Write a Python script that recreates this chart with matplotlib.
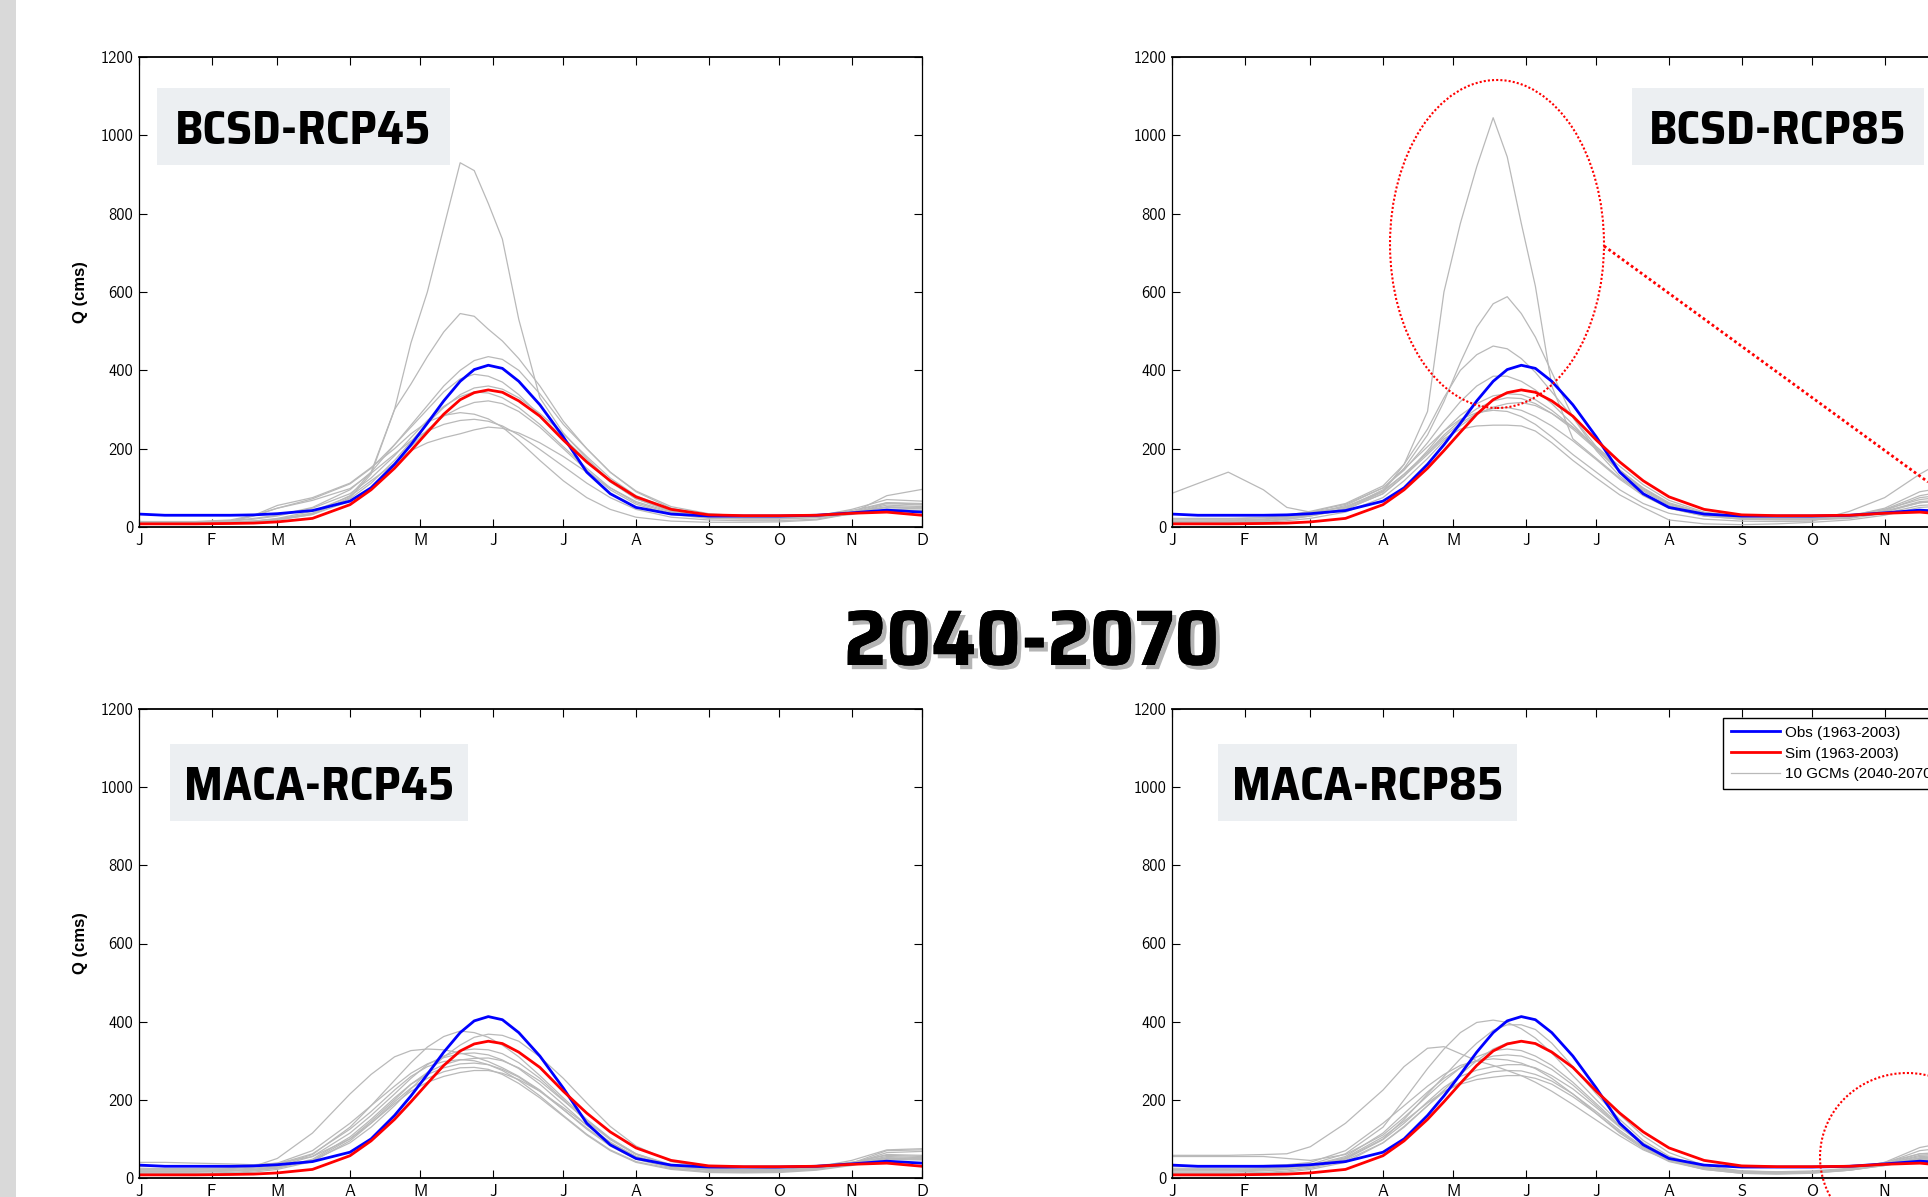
import matplotlib
matplotlib.use("Agg")
import matplotlib.pyplot as plt
import matplotlib.patheffects as pe
from matplotlib import font_manager
from matplotlib.textpath import TextPath
from matplotlib.patches import Ellipse, Rectangle
from matplotlib.lines import Line2D

# =============================================================================
# data (day of year, Q in cms)
# =============================================================================
DAYS = [1, 12, 25, 40, 50, 60, 75, 91, 100, 110, 117, 124, 131, 138, 144, 150,
        156, 163, 172, 182, 192, 202, 213, 228, 244, 259, 274, 290, 305, 320, 335]

OBS = [33, 30, 30, 30, 31, 34, 42, 66, 100, 160, 210, 265, 322, 372, 402, 413,
       405, 372, 312, 230, 140, 85, 50, 33, 28, 28, 28, 30, 36, 43, 38]
SIM = [8, 8, 8, 9, 10, 13, 22, 57, 95, 150, 195, 242, 288, 325, 343, 350,
       344, 322, 283, 222, 166, 118, 77, 45, 31, 29, 29, 30, 35, 38, 30]

BCSD45 = [
    [12, 12, 12, 13, 15, 20, 35, 80, 140, 300, 470, 600, 765, 930, 910, 826, 735, 530, 330, 240, 175, 118, 72, 40, 26, 24, 24, 28, 38, 50, 48],
    [10, 10, 11, 12, 14, 18, 32, 75, 135, 300, 365, 435, 498, 545, 538, 505, 475, 430, 360, 270, 200, 140, 90, 48, 30, 26, 25, 28, 36, 52, 50],
    [12, 12, 13, 16, 22, 30, 50, 95, 140, 210, 260, 310, 360, 400, 425, 435, 428, 400, 340, 262, 200, 140, 92, 52, 34, 28, 27, 30, 42, 62, 58],
    [14, 14, 14, 18, 30, 48, 72, 110, 150, 210, 255, 300, 345, 378, 390, 385, 370, 338, 285, 228, 170, 115, 72, 40, 28, 24, 24, 28, 45, 70, 66],
    [10, 10, 10, 12, 15, 20, 35, 72, 112, 170, 218, 265, 305, 338, 355, 360, 352, 330, 290, 238, 180, 125, 80, 45, 30, 26, 25, 28, 38, 50, 46],
    [14, 13, 13, 15, 20, 28, 48, 85, 125, 182, 228, 272, 308, 333, 345, 342, 330, 305, 262, 205, 150, 100, 62, 35, 25, 22, 22, 26, 36, 56, 52],
    [8, 8, 8, 10, 13, 18, 32, 66, 102, 160, 205, 248, 283, 305, 318, 322, 315, 295, 255, 200, 145, 95, 58, 32, 22, 20, 20, 24, 32, 46, 42],
    [12, 12, 12, 15, 30, 55, 75, 112, 152, 200, 238, 268, 285, 292, 288, 276, 255, 220, 170, 118, 75, 45, 25, 15, 12, 12, 13, 18, 34, 60, 56],
    [10, 10, 10, 14, 28, 48, 68, 98, 137, 186, 220, 245, 262, 272, 275, 270, 258, 235, 198, 155, 112, 75, 45, 25, 18, 16, 16, 20, 35, 80, 96],
    [10, 10, 10, 12, 15, 22, 40, 78, 118, 162, 195, 215, 228, 238, 248, 255, 252, 240, 215, 180, 140, 100, 65, 38, 25, 22, 22, 25, 38, 62, 60],
]

BCSD85 = [
    [22, 22, 22, 24, 26, 30, 45, 90, 160, 295, 600, 775, 920, 1045, 945, 775, 615, 360, 225, 175, 125, 85, 52, 32, 25, 24, 24, 30, 45, 70, 80],
    [18, 18, 18, 20, 24, 30, 48, 95, 150, 235, 320, 420, 510, 570, 588, 545, 485, 395, 280, 195, 130, 82, 48, 28, 20, 20, 20, 24, 38, 62, 72],
    [20, 20, 20, 24, 30, 40, 60, 105, 160, 250, 330, 400, 440, 462, 455, 430, 395, 345, 280, 205, 145, 95, 58, 32, 24, 22, 22, 26, 40, 65, 70],
    [15, 15, 16, 20, 28, 38, 58, 100, 145, 215, 270, 320, 360, 385, 385, 372, 350, 315, 262, 200, 140, 92, 55, 30, 22, 20, 20, 25, 42, 75, 85],
    [12, 12, 12, 15, 20, 28, 45, 85, 130, 195, 245, 285, 315, 335, 340, 338, 325, 298, 255, 200, 145, 98, 60, 34, 24, 22, 22, 26, 40, 62, 68],
    [14, 14, 14, 18, 25, 35, 52, 92, 135, 190, 235, 272, 302, 322, 330, 328, 315, 290, 250, 198, 145, 100, 62, 36, 25, 22, 22, 28, 48, 90, 105],
    [10, 10, 10, 12, 16, 22, 38, 75, 118, 175, 220, 258, 288, 306, 315, 318, 310, 290, 255, 205, 155, 108, 68, 38, 26, 23, 23, 28, 45, 80, 95],
    [86, 111, 140, 95, 50, 38, 50, 90, 135, 190, 230, 265, 290, 303, 305, 298, 282, 258, 220, 172, 122, 80, 48, 28, 20, 18, 18, 22, 35, 55, 60],
    [12, 12, 12, 15, 22, 32, 55, 100, 148, 205, 245, 275, 292, 298, 295, 282, 262, 230, 185, 140, 95, 60, 35, 20, 15, 14, 15, 40, 75, 135, 185],
    [10, 10, 10, 14, 20, 28, 45, 85, 130, 185, 225, 250, 258, 260, 260, 258, 245, 215, 170, 125, 82, 50, 18, 8, 6, 8, 12, 18, 30, 50, 55],
]

MACA45 = [
    [25, 24, 24, 26, 30, 50, 115, 215, 265, 310, 326, 330, 328, 320, 310, 298, 282, 260, 225, 175, 128, 85, 50, 28, 22, 22, 25, 32, 40, 52, 50],
    [20, 20, 20, 22, 25, 32, 60, 130, 185, 250, 295, 335, 362, 376, 372, 360, 340, 310, 262, 205, 150, 102, 62, 32, 22, 20, 20, 25, 35, 50, 48],
    [18, 18, 18, 20, 22, 28, 45, 90, 130, 185, 228, 270, 310, 340, 360, 368, 365, 350, 310, 255, 192, 132, 82, 42, 26, 22, 22, 26, 38, 60, 58],
    [15, 15, 15, 18, 22, 30, 55, 115, 160, 215, 255, 290, 312, 326, 330, 328, 318, 295, 255, 200, 145, 98, 60, 32, 20, 18, 18, 24, 36, 65, 68],
    [40, 40, 38, 36, 34, 38, 70, 140, 185, 235, 268, 292, 308, 318, 320, 315, 302, 280, 240, 188, 135, 90, 55, 30, 20, 18, 18, 24, 38, 70, 72],
    [12, 12, 12, 14, 18, 25, 45, 100, 145, 200, 240, 270, 290, 302, 306, 307, 300, 282, 248, 198, 148, 100, 62, 34, 22, 20, 20, 25, 40, 58, 55],
    [22, 22, 22, 24, 28, 36, 62, 125, 170, 225, 260, 285, 298, 303, 300, 290, 275, 250, 210, 160, 112, 72, 42, 24, 16, 15, 16, 22, 36, 55, 52],
    [16, 16, 16, 18, 20, 26, 48, 105, 150, 205, 240, 265, 282, 292, 294, 290, 278, 258, 222, 175, 125, 82, 48, 26, 16, 15, 16, 22, 34, 50, 48],
    [10, 10, 10, 12, 15, 22, 42, 95, 140, 195, 230, 255, 272, 282, 283, 278, 265, 242, 205, 158, 110, 70, 40, 22, 14, 13, 14, 20, 32, 48, 46],
    [30, 30, 30, 30, 32, 38, 55, 100, 140, 190, 222, 245, 260, 270, 275, 275, 268, 252, 222, 180, 135, 92, 55, 30, 20, 18, 20, 28, 45, 72, 75],
]

MACA85 = [
    [58, 58, 58, 60, 62, 80, 140, 225, 285, 332, 336, 318, 300, 288, 275, 262, 245, 222, 188, 148, 108, 72, 45, 26, 18, 16, 18, 25, 40, 62, 60],
    [20, 20, 20, 22, 26, 35, 62, 130, 200, 280, 330, 372, 398, 404, 398, 382, 358, 320, 262, 200, 140, 90, 52, 26, 14, 12, 14, 22, 40, 78, 95],
    [15, 15, 15, 18, 22, 30, 50, 100, 150, 215, 260, 305, 345, 378, 392, 392, 380, 345, 285, 215, 150, 96, 56, 28, 16, 14, 15, 22, 36, 62, 68],
    [12, 12, 12, 14, 18, 25, 45, 90, 130, 185, 225, 265, 300, 330, 345, 350, 345, 325, 282, 222, 162, 108, 65, 32, 18, 15, 16, 22, 35, 58, 62],
    [55, 55, 55, 55, 50, 45, 60, 110, 155, 210, 248, 282, 310, 326, 330, 326, 312, 288, 245, 190, 135, 88, 50, 26, 15, 13, 15, 22, 38, 70, 80],
    [25, 25, 25, 26, 28, 32, 55, 115, 165, 220, 255, 282, 300, 312, 315, 312, 300, 278, 238, 185, 132, 86, 50, 26, 15, 13, 15, 22, 36, 55, 58],
    [30, 30, 30, 32, 34, 40, 70, 140, 185, 235, 265, 288, 300, 305, 302, 294, 280, 255, 215, 165, 115, 75, 42, 22, 12, 11, 13, 20, 34, 52, 55],
    [18, 18, 18, 20, 22, 28, 48, 98, 140, 195, 232, 260, 276, 285, 290, 290, 282, 262, 228, 180, 130, 86, 50, 26, 15, 13, 15, 22, 34, 50, 52],
    [10, 10, 10, 12, 15, 22, 40, 90, 132, 185, 220, 245, 262, 272, 275, 274, 265, 248, 215, 170, 122, 80, 46, 24, 14, 12, 14, 20, 32, 48, 50],
    [22, 22, 22, 24, 26, 32, 52, 105, 145, 192, 222, 240, 252, 258, 262, 262, 255, 240, 208, 165, 118, 78, 44, 22, 12, 10, 12, 20, 32, 46, 48],
]

MONTH_DAYS = [1, 32, 60, 91, 121, 152, 182, 213, 244, 274, 305, 335]
MONTH_LABELS = ["J", "F", "M", "A", "M", "J", "J", "A", "S", "O", "N", "D"]
Y_TICKS = [0, 200, 400, 600, 800, 1000, 1200]
PANEL_NAMES = ["BCSD-RCP45", "BCSD-RCP85", "MACA-RCP45", "MACA-RCP85"]
LEGEND_LABELS = ["Obs (1963-2003)", "Sim (1963-2003)", "10 GCMs (2040-2070)"]
PERIOD = "2040-2070"

# =============================================================================
# fonts: the original used a narrow bold face; pick the installed sans face
# whose width/height ratio is closest to it
# =============================================================================
SANS_KEYS = ("sans", "roboto", "lato", "inter", "narrow", "condensed", "arial")


def text_box(fp, s):
    ext = TextPath((0, 0), s, size=100, prop=fp).get_extents()
    return ext.width, ext.height


def pick_font(sample, ratio, bold):
    best, best_err = None, 1e9
    seen = set()
    for f in font_manager.fontManager.ttflist:
        tag = (f.name + " " + f.fname).lower()
        if f.fname in seen or f.style != "normal":
            continue
        seen.add(f.fname)
        if "cjk" in tag or "mono" in tag or "serif" in tag.replace("sans", "") or "italic" in tag:
            continue
        if not any(k in tag for k in SANS_KEYS):
            continue
        w = f.weight if isinstance(f.weight, int) else (700 if "bold" in str(f.weight) else 400)
        if bold and not (650 <= w <= 800):
            continue
        if not bold and not (380 <= w <= 500):
            continue
        try:
            fp = font_manager.FontProperties(fname=f.fname)
            tw, th = text_box(fp, sample)
        except Exception:
            continue
        if th <= 0:
            continue
        err = abs(tw / th - ratio)
        if err < best_err:
            best, best_err = fp, err
    if best is None:
        best = font_manager.FontProperties(family="Liberation Sans",
                                           weight="bold" if bold else "normal")
    return best


def fit_size(fp, s, cap_px, width_px):
    # font size (pt at dpi 100) giving the cap height, but never wider than width_px
    tw, th = text_box(fp, s)
    size_h = cap_px / (th / 100) * 0.72
    size_w = width_px / (tw / 100) * 0.72
    return min(size_h, size_w)


BOLD_FP = pick_font("BCSD-RCP45", 249 / 34, True)
TICK_FP = pick_font("1200", 32 / 12, False)
ARIAL = "Liberation Sans"

LABEL_FS = fit_size(BOLD_FP, "BCSD-RCP45", 34, 252)
TITLE_FS = fit_size(BOLD_FP, PERIOD, 70, 368)
TICK_FS = fit_size(TICK_FP, "1200", 11.5, 33)
TICK_FP.set_size(TICK_FS)
_, LABEL_CAP = text_box(BOLD_FP, "BCSD")
LABEL_CAP = LABEL_CAP / 100 * LABEL_FS / 0.72

W, H = 1928, 1197
fig = plt.figure(figsize=(W / 100, H / 100), dpi=100)


def px(x, y, w, h):
    # pixel box (top-left origin) -> figure fraction
    return [x / W, 1 - (y + h) / H, w / W, h / H]


# gray strip on the left edge
fig.add_artist(Rectangle((0, 0), 16 / W, 1, transform=fig.transFigure,
                         facecolor="#d9d9d9", edgecolor="none", zorder=0))

axes_px = [(139, 57, 783, 470), (1172, 57, 783, 470),
           (139, 709, 783, 469), (1172, 709, 783, 469)]
boxes_px = [(157, 88, 293, 77), (1632, 88, 292, 77),
            (170, 744, 298, 77), (1218, 744, 299, 77)]
gcm_sets = [BCSD45, BCSD85, MACA45, MACA85]

for i, (name, gcms) in enumerate(zip(PANEL_NAMES, gcm_sets)):
    ax = fig.add_axes(px(*axes_px[i]))
    for g in gcms:
        ax.plot(DAYS, g, color="#b9b9b9", lw=0.9)
    ax.plot(DAYS, OBS, color="#0000ff", lw=2.0)
    ax.plot(DAYS, SIM, color="#ff0000", lw=2.0)

    ax.set_xlim(1, 335)
    ax.set_ylim(0, 1200)
    ax.set_xticks(MONTH_DAYS)
    ax.set_xticklabels(MONTH_LABELS)
    ax.set_yticks(Y_TICKS)
    ax.tick_params(direction="in", top=True, right=True, length=5.5, width=0.8, pad=4)
    for lab in ax.get_xticklabels() + ax.get_yticklabels():
        lab.set_fontproperties(TICK_FP)
    for s in ["left", "right"]:
        ax.spines[s].set_linewidth(0.9)
    for s in ["top", "bottom"]:
        ax.spines[s].set_linewidth(1.3)

    if i % 2 == 0:
        ax.set_ylabel("Q (cms)", fontsize=12, fontweight="bold", family=ARIAL)
        ax.yaxis.set_label_coords(-0.065, 0.5)

    # panel name on a light box
    bx, by, bw, bh = boxes_px[i]
    fig.add_artist(Rectangle((bx / W, 1 - (by + bh) / H), bw / W, bh / H,
                             transform=fig.transFigure, facecolor="#eceff2",
                             edgecolor="none", zorder=2))
    fig.text((bx + bw / 2) / W, 1 - (by + bh / 2 + LABEL_CAP / 2) / H, name,
             ha="center", va="baseline", fontproperties=BOLD_FP, fontsize=LABEL_FS,
             zorder=3)

# big period title with drop shadow
fig.text(1032 / W, 1 - 665 / H, PERIOD, ha="center", va="baseline",
         fontproperties=BOLD_FP, fontsize=TITLE_FS, zorder=3,
         path_effects=[pe.withSimplePatchShadow(offset=(3, -3), shadow_rgbFace="0.35", alpha=0.45),
                       pe.Normal()])

# red dotted highlights
dots = (0, (1, 1))
fig.add_artist(Ellipse((1497 / W, 1 - 244 / H), 214 / W, 328 / H,
                       transform=fig.transFigure, fill=False, edgecolor="#ff0000",
                       lw=1.5, linestyle=dots, zorder=4))
fig.add_artist(Line2D([1604 / W, 1928 / W], [1 - 246 / H, 1 - 482 / H],
                      transform=fig.transFigure, color="#ff0000", lw=2.0,
                      linestyle=dots, zorder=4))
fig.add_artist(Ellipse((1907 / W, 1 - 1157 / H), 174 / W, 168 / H,
                       transform=fig.transFigure, fill=False, edgecolor="#ff0000",
                       lw=1.5, linestyle=dots, zorder=4))

# legend (cut by the right edge like the original)
handles = [Line2D([], [], color="#0000ff", lw=2.0),
           Line2D([], [], color="#ff0000", lw=2.0),
           Line2D([], [], color="#b9b9b9", lw=0.9)]
leg = fig.legend(handles, LEGEND_LABELS, loc="upper left",
                 bbox_to_anchor=(1723 / W, 1 - 718 / H), bbox_transform=fig.transFigure,
                 frameon=True, fancybox=False, edgecolor="black", framealpha=1,
                 prop=dict(family=ARIAL, size=11), handlelength=3.2,
                 handletextpad=0.35, borderpad=0.5, labelspacing=0.45,
                 borderaxespad=0)
leg.get_frame().set_linewidth(1.0)
leg.set_zorder(5)

fig.savefig("out.png", dpi=100)
